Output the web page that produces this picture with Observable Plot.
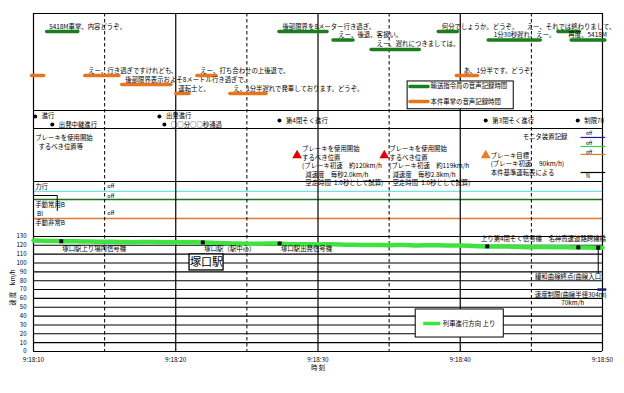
<!DOCTYPE html>
<html><head><meta charset="utf-8">
<script src="https://cdn.jsdelivr.net/npm/d3@7"></script>
<script src="https://cdn.jsdelivr.net/npm/@observablehq/plot@0.6"></script>
<style>body{margin:0;background:#fff}#chart svg{display:block}</style>
</head><body><div id="chart"></div>
<script>
// ---- Data (time = seconds after 9:18:00) ----
const xTicks = [10, 20, 30, 40, 50];
const xHalfTicks = [15, 25, 35, 45];
const xTickLabels = ["9:18:10", "9:18:20", "9:18:30", "9:18:40", "9:18:50"];
const speedTicks = [0, 10, 20, 30, 40, 50, 60, 70, 80, 90, 100, 110, 120, 130];

const speedTime = [10,11,12,13,14,15,16,17,18,19,20,21,22,23,24,25,26,27,28,29,30,31,32,33,34,35,36,37,38,39,40,41,42,43,44,45,46,47,48,49,50];
const speedKmh  = [125.5,125,124.7,124.5,124.3,124,123.8,123.5,123.8,123.5,123.6,123.4,123.2,122.6,122.2,121.8,121.9,122.1,121.3,121.2,121,121.2,120.7,120.5,120.4,120.2,120.3,119.9,120.1,119.8,119.8,119.2,118.7,118.8,118.3,117.9,118.1,117.8,117.6,117.4,117.2];

// 輸送指令員の音声記録時間
const dispatcherTalk = [
  {start: 10.96, end: 13.15, lane: 0, textAt: 11.1,  text: "5418M車掌、内容どうぞ。"},
  {start: 27.29, end: 30.67, lane: 0, textAt: 27.5,  text: "後部限界を8メーター行き過ぎ。"},
  {start: 31.09, end: 32.5,  lane: 1, textAt: 31.43, text: "えー、後退、客扱い。"},
  {start: 33.77, end: 37.15, lane: 2, textAt: 34.12, text: "えー、遅れにつきましては、"},
  {start: 38.49, end: 39.83, lane: 0, textAt: 38.7,  text: "何分でしょうか。どうぞ。"},
  {start: 42.0,  end: 45.66, lane: 1, textAt: 42.35, text: "1分30秒遅れ、えー。"},
  {start: 46.9,  end: 48.4,  lane: 0, textAt: 44.67, text: "えー、それでは終わりまして、"},
  {start: 47.83, end: 50.2,  lane: 1, textAt: 47.6,  text: "再度、5418M"}
];
// 本件車掌の音声記録時間
const conductorTalk = [
  {start: 9.9,   end: 10.75, lane: 0, textAt: 9.9,   text: ""},
  {start: 13.64, end: 16.03, lane: 0, textAt: 13.85, text: "えー、行き過ぎですけれども、"},
  {start: 16.24, end: 19.69, lane: 1, textAt: 16.45, text: "後部限界表示およそ8メートル行き過ぎで、"},
  {start: 20.04, end: 20.96, lane: 2, textAt: 20.18, text: "運転士と、"},
  {start: 21.52, end: 22.86, lane: 0, textAt: 21.73, text: "えー、打ち合わせの上後退で、"},
  {start: 23.84, end: 26.38, lane: 2, textAt: 24.05, text: "え、1分半遅れで発車しております。どうぞ。"},
  {start: 39.76, end: 41.24, lane: 0, textAt: 40.24, text: "あ、1分半です。どうぞ。"}
];
const legendVoice = ["輸送指令員の音声記録時間", "本件車掌の音声記録時間"];

// 信号現示
const signalEvents = [
  {t: 10.12, lane: 0, text: "進行"},
  {t: 11.32, lane: 2, text: "出発中継進行"},
  {t: 18.85, lane: 0, text: "出発進行"},
  {t: 19.2,  lane: 2, text: "○○分○○秒通過"},
  {t: 27.29, lane: 1, text: "第4閉そく進行"},
  {t: 41.79, lane: 1, text: "第3閉そく進行"},
  {t: 48.26, lane: 1, text: "制限70"}
];

// ブレーキを使用開始するべき位置等
const brakeHeader = "ブレーキを使用開始\n\u2002するべき位置等";
const brakePoints = [
  {t: 28.53, kind: "calc", text: "ブレーキを使用開始\nするべき位置\n(ブレーキ初速\u3000約120km/h\n\u2002減速度\u3000毎秒2.0km/h\n\u2002空走時間\u20021.0秒として試算)"},
  {t: 34.66, kind: "calc", text: "ブレーキを使用開始\nするべき位置\n(ブレーキ初速\u3000約119km/h\n\u2002減速度\u3000毎秒2.8km/h\n\u2002空走時間\u20021.0秒として試算)"},
  {t: 41.79, kind: "target", text: "ブレーキ目標\n(ブレーキ初速\u3000 90km/h)\n本件基準運転表による"}
];
const monitorTitle = "モニタ装置記録";
const leverLabels = ["力行", "手動常用B", "BI", "手動非常B"];
const offLabel = "off";

// 速度グラフ上の地点
const landmarks = [
  {t: 11.95, v: 124.6, label: "塚口駅上り場内信号機", side: "below", labelAt: 12.02},
  {t: 21.9,  v: 123.3, label: "塚口駅（駅中心）",     side: "below", labelAt: 22.01},
  {t: 27.3,  v: 122.1, label: "塚口駅出発信号機",     side: "below", labelAt: 27.4},
  {t: 41.9,  v: 118.8, label: "上り第4閉そく信号機", side: "above", labelAt: 41.45},
  {t: 48.3,  v: 117.7, label: "名神高速道路跨線橋",   side: "above", labelAt: 46.2},
  {t: 49.7,  v: 117.4, label: "",                     side: "none",  labelAt: 49.7}
];
const curveEntry = {t: 49.7, label: "緩和曲線終点(曲線入口)"};
const speedLimit = {v: 70, from: 49.67, to: 50.3, label: "速度制限(曲線半径304m)", value: "70km/h"};
const stationName = "塚口駅";
const legendSpeed = "列車進行方向 上り";
const yTitle = "速 度\u3000km/h";
const xTitle = "時 刻";

// ---- Layout (virtual y units above the speed scale) ----
const TOP = 382;
const dLane = [361.7, 352, 341.4];
const cLane = [312, 301.8, 291.7];
const sLane = [265.7, 261.1, 256.6];
const fs = 6.4;
const green = "#1b7d1b", orange = "#e8741e", light = "#3fe33f";

const F = "Noto Sans CJK JP";
const chart = Plot.plot({
  width: 624, height: 393,
  marginLeft: 33, marginRight: 22, marginTop: 13, marginBottom: 42,
  x: {domain: [10, 50]},
  y: {domain: [0, TOP]},
  style: {fontFamily: F, background: "#fff", color: "#000"},
  marks: [
    // speed grid
    Plot.ruleY(speedTicks, {stroke: "#000", strokeWidth: 1.1}),
    // section separators
    Plot.ruleY([TOP, 272.4, 252.1, 192.2], {stroke: "#000", strokeWidth: 1.1}),
    Plot.ruleY([180.9], {stroke: "#6ee3ea", strokeWidth: 1.3}),
    Plot.ruleY([171.8], {stroke: "#1f6f1f", strokeWidth: 1.3}),
    Plot.ruleY([150.3], {stroke: "#e07a2c", strokeWidth: 1.5}),
    // time grid
    Plot.ruleX(xTicks, {stroke: "#000", strokeWidth: 1.2}),
    Plot.ruleX(xHalfTicks, {stroke: "#000", strokeWidth: 1, strokeDasharray: "3.5,2.5"}),

    // voice record bars
    Plot.ruleY(dispatcherTalk, {x1: "start", x2: "end", y: d => dLane[d.lane], stroke: green, strokeWidth: 3.5, strokeLinecap: "round"}),
    Plot.text(dispatcherTalk, {x: "textAt", y: d => dLane[d.lane], dy: -5, text: "text", textAnchor: "start", fontSize: fs}),
    Plot.ruleY(conductorTalk, {x1: "start", x2: "end", y: d => cLane[d.lane], stroke: orange, strokeWidth: 3.5, strokeLinecap: "round"}),
    Plot.text(conductorTalk, {x: "textAt", y: d => cLane[d.lane], dy: -4.5, text: "text", textAnchor: "start", fontSize: fs}),
    // voice legend
    Plot.rect([0], {x1: 36.3, x2: 43.76, y1: 273.8, y2: 305.2, fill: "#fff", stroke: "#000", strokeWidth: 1}),
    Plot.ruleY([0, 1], {x1: 36.5, x2: 37.77, y: i => [299.6, 282.6][i], stroke: i => [green, orange][i], strokeWidth: 3.5, strokeLinecap: "round"}),
    Plot.text(legendVoice, {x: 37.91, y: (d, i) => [299.6, 282.6][i], text: d => d, textAnchor: "start", fontSize: fs}),

    // signal events
    Plot.dot(signalEvents, {x: "t", y: d => sLane[d.lane], r: 2, fill: "#000"}),
    Plot.text(signalEvents, {x: "t", y: d => sLane[d.lane], dx: 6.5, text: "text", textAnchor: "start", fontSize: fs}),

    // brake positions
    Plot.text([brakeHeader], {x: 10.12, y: 236.8, text: d => d, textAnchor: "start", fontSize: fs, lineHeight: 1.4}),
    Plot.dot(brakePoints, {x: "t", y: 221.6, symbol: "triangle", r: 3.6, fill: d => d.kind === "calc" ? "#e00000" : "#ee7a26", stroke: "none"}),
    Plot.text(brakePoints, {x: "t", y: d => d.kind === "calc" ? 210.3 : 212.5, dx: 5, text: "text", textAnchor: "start", fontSize: fs, lineHeight: 1.32}),
    // monitor record
    Plot.text([monitorTitle], {x: 44.39, y: 243, text: d => d, textAnchor: "start", fontSize: fs}),
    Plot.text([246.4, 235.1, 225], {x: 48.84, y: d => d, text: () => offLabel, textAnchor: "start", fontSize: 5}),
    Plot.ruleY([241.9, 231.7, 222.7, 202.3], {x1: 48.49, x2: 50.23, stroke: (d, i) => ["#1b1b9a", "#3fcf3f", "#e07a2c", "#000"][i], strokeWidth: 1.2}),
    Plot.text(["N"], {x: 48.84, y: 197.8, text: d => d, textAnchor: "start", fontSize: 5.5}),

    // levers
    Plot.text(leverLabels, {x: (d, i) => [10.12, 10.12, 10.25, 10.12][i], y: (d, i) => [186.5, 166.2, 156, 145.8][i], text: d => d, textAnchor: "start", fontSize: fs}),
    Plot.text([186.5, 175.8, 156], {x: 15.19, y: d => d, text: () => offLabel, textAnchor: "start", fontSize: 5.5}),
    Plot.line([[10, 176.3], [11.67, 176.3], [11.67, 159.4]], {stroke: "#000", strokeWidth: 1}),

    // speed line
    Plot.line(speedTime.map((t, i) => ({t, v: speedKmh[i]})), {x: "t", y: "v", stroke: light, strokeWidth: 4.5, curve: "monotone-x"}),
    Plot.ruleX([curveEntry], {x: "t", y1: 117.4, y2: 87.5, stroke: "#000", strokeWidth: 1}),
    Plot.dot(landmarks, {x: "t", y: "v", r: 2.2, fill: "#000", symbol: "square"}),
    Plot.text(landmarks.filter(d => d.side === "below"), {x: "labelAt", y: 116.4, text: "label", textAnchor: "start", fontSize: fs}),
    Plot.text(landmarks.filter(d => d.side === "above"), {x: "labelAt", y: 127.7, text: "label", textAnchor: "start", fontSize: fs}),
    Plot.text([curveEntry], {x: 50.05, y: 84, text: "label", textAnchor: "end", fontSize: fs}),
    Plot.ruleY([speedLimit], {x1: "from", x2: "to", y: "v", stroke: "#1b1b7a", strokeWidth: 2.5}),
    Plot.text([speedLimit], {x: 50.3, y: 64.4, text: "label", textAnchor: "end", fontSize: fs}),
    Plot.text([speedLimit], {x: 47.1, y: 55.4, text: "value", textAnchor: "start", fontSize: fs}),
    // station box
    Plot.rect([0], {x1: 20.97, x2: 23.36, y1: 91.6, y2: 109.7, fill: "#fff", stroke: "#000", strokeWidth: 1.3}),
    Plot.text([stationName], {x: 22.16, y: 100.6, text: d => d, fontSize: 11}),
    // speed legend
    Plot.rect([0], {x1: 36.87, x2: 43.06, y1: 15.8, y2: 47.5, fill: "#fff", stroke: "#000", strokeWidth: 1}),
    Plot.ruleY([31.65], {x1: 37.43, x2: 38.63, stroke: light, strokeWidth: 3.5}),
    Plot.text([legendSpeed], {x: 38.77, y: 31.65, text: d => d, textAnchor: "start", fontSize: fs}),

    // axes
    Plot.axisY({ticks: speedTicks, tickSize: 0, tickPadding: 7, fontSize: 6, label: null}),
    Plot.axisX({ticks: xTicks, tickSize: 0, tickPadding: 5.5, fontSize: fs, label: null, tickFormat: d => xTickLabels[xTicks.indexOf(d)]}),
    Plot.text([yTitle], {x: 8.55, y: 72.3, text: d => d, rotate: -90, fontSize: fs}),
    Plot.text([xTitle], {x: 30, y: -18.5, text: d => d, fontSize: fs})
  ]
});
document.getElementById("chart").appendChild(chart);
</script>
</body></html>
